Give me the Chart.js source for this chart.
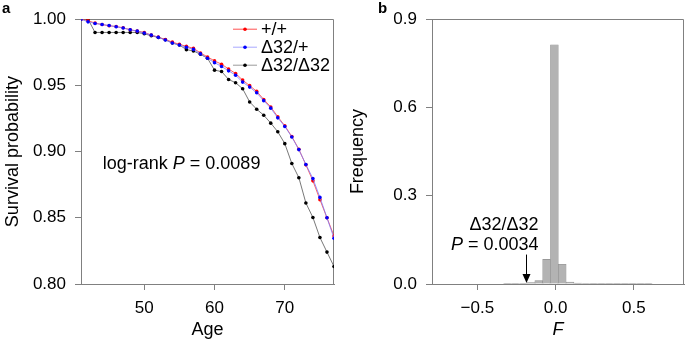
<!DOCTYPE html>
<html lang="en">
<head>
  <meta charset="UTF-8">
  <title>Survival by CCR5 genotype and F distribution</title>
  <script src="https://cdn.jsdelivr.net/npm/chart.js"></script>
  <style>
    body { margin: 0; background: #fff; font-family: "Liberation Sans", Arial, Helvetica, sans-serif; }
    #wrap { position: relative; width: 685px; height: 342px; overflow: hidden; }
    .panel { position: absolute; top: 0; height: 342px; }
    #panelA { left: 0; width: 345px; }
    #panelB { left: 345px; width: 340px; }
    .tag { position: absolute; top: 0; font-weight: bold; font-size: 15px; line-height: 15px; }
  </style>
</head>
<body>
  <div id="wrap">
    <div class="panel" id="panelA"><canvas id="survChart"></canvas></div>
    <div class="panel" id="panelB"><canvas id="histChart"></canvas></div>
    <div class="tag" style="left:2px">a</div>
    <div class="tag" style="left:378px">b</div>
  </div>

  <script>
    // panel a : survival by genotype
    const ages = [41, 42, 43, 44, 45, 46, 47, 48, 49, 50, 51, 52, 53, 54, 55, 56, 57, 58, 59,
                  60, 61, 62, 63, 64, 65, 66, 67, 68, 69, 70, 71, 72, 73, 74, 75, 76, 77];
    const survWT = [1.000, 0.999, 0.997, 0.996, 0.995, 0.9945, 0.9935, 0.992, 0.991, 0.990,
                    0.988, 0.9865, 0.9847, 0.9827, 0.981, 0.9795, 0.978, 0.9745, 0.9715,
                    0.9685, 0.966, 0.9624, 0.959, 0.954, 0.9498, 0.9455, 0.9394, 0.9337,
                    0.9263, 0.9195, 0.9114, 0.9017, 0.890, 0.8779, 0.8637, 0.850, 0.8363];
    const survHet = [1.000, 0.998, 0.9968, 0.996, 0.9952, 0.9943, 0.9933, 0.992, 0.991, 0.9895,
                     0.988, 0.9863, 0.9843, 0.982, 0.9805, 0.9788, 0.9772, 0.9738, 0.9705,
                     0.9672, 0.9643, 0.961, 0.9577, 0.9525, 0.9487, 0.9444, 0.9385, 0.9328,
                     0.9255, 0.919, 0.911, 0.9015, 0.8903, 0.8796, 0.8654, 0.850, 0.8346];
    const survHom = [1.000, 1.000, 0.990, 0.990, 0.990, 0.990, 0.990, 0.990, 0.990, 0.989,
                     0.9875, 0.9862, 0.9845, 0.982, 0.9805, 0.977, 0.976, 0.9735, 0.9705,
                     0.9615, 0.9605, 0.9545, 0.952, 0.9475, 0.9375, 0.932, 0.9275, 0.9215,
                     0.915, 0.906, 0.891, 0.8803, 0.8612, 0.8502, 0.8351, 0.8241, 0.8132];
    const genotypeNames = ['+/+', 'Δ32/+', 'Δ32/Δ32'];
    const ageTicks = [50, 60, 70];
    const survTicks = [0.80, 0.85, 0.90, 0.95, 1.00];
    const logRankP = '0.0089';

    // panel b : distribution of F
    const fBinCenters = [-0.408, -0.358, -0.308, -0.258, -0.208, -0.158, -0.108, -0.058, -0.008,
                         0.042, 0.092, 0.142, 0.192, 0.242, 0.292, 0.342, 0.392, 0.442, 0.492,
                         0.542, 0.592, 0.642];
    const fFreq = [0, 0, 0.0005, 0.001, 0.002, 0.005, 0.012, 0.0836, 0.813,
                   0.067, 0.0067, 0.003, 0.0015, 0.001, 0.0008, 0.0005, 0.0005, 0.0005, 0.0005,
                   0.0008, 0.0008, 0];
    const fTicks = [-0.5, 0, 0.5];
    const freqTicks = [0, 0.3, 0.6, 0.9];
    const homF = -0.19;        // observed F for Δ32/Δ32
    const homP = '0.0034';

    const FONT = '"Liberation Sans", Arial, Helvetica, sans-serif';
    const AXIS = '#808080';
    Chart.defaults.font.family = FONT;
    Chart.defaults.color = '#000';

    const colours = [
      { line: '#ff3b3b', point: '#ff0000', legend: '#ff5050' },
      { line: '#7a7aff', point: '#0000ff', legend: '#a8a8ff' },
      { line: '#555555', point: '#000000', legend: '#9a9a9a' }
    ];

    function series(values, c, order) {
      return {
        data: ages.map((a, i) => ({ x: a, y: values[i] })),
        borderColor: c.line,
        borderWidth: 0.8,
        pointRadius: 1.8,
        pointBorderWidth: 0,
        pointBackgroundColor: c.point,
        tension: 0,
        order: order
      };
    }

    // full box round the plot area
    const frame = {
      id: 'frame',
      beforeDatasetsDraw(chart) {
        const { ctx, chartArea: a } = chart;
        ctx.save();
        ctx.strokeStyle = AXIS;
        ctx.lineWidth = 1;
        ctx.beginPath();
        ctx.moveTo(Math.round(a.left) + 0.5, Math.round(a.top) + 0.5);
        ctx.lineTo(Math.round(a.right) - 0.5, Math.round(a.top) + 0.5);
        ctx.lineTo(Math.round(a.right) - 0.5, Math.round(a.bottom) + 0.5);
        ctx.stroke();
        ctx.restore();
      }
    };

    // draws "P" in italics inside a run of text, returns the width
    function mixedText(ctx, parts, x, y, size, measureOnly) {
      let w = 0;
      parts.forEach(p => {
        ctx.font = (p.italic ? 'italic ' : '') + size + 'px ' + FONT;
        if (!measureOnly) ctx.fillText(p.t, x + w, y);
        w += ctx.measureText(p.t).width;
      });
      return w;
    }

    const survNotes = {
      id: 'survNotes',
      afterDraw(chart) {
        const { ctx, chartArea: a, scales } = chart;
        ctx.save();
        ctx.fillStyle = '#000';
        ctx.textBaseline = 'alphabetic';
        // log-rank text
        const lx = scales.x.getPixelForValue(44.1);
        const ly = scales.y.getPixelForValue(0.8866);
        mixedText(ctx, [{ t: 'log-rank ' }, { t: 'P', italic: true }, { t: ' = ' + logRankP }], lx, ly, 18);
        // legend
        genotypeNames.forEach((name, i) => {
          const y = a.top + 10 + i * 18;
          ctx.strokeStyle = colours[i].legend;
          ctx.lineWidth = 1;
          ctx.beginPath();
          ctx.moveTo(a.right - 101, y);
          ctx.lineTo(a.right - 77, y);
          ctx.stroke();
          ctx.fillStyle = colours[i].point;
          ctx.beginPath();
          ctx.arc(a.right - 89, y, 1.8, 0, Math.PI * 2);
          ctx.fill();
          ctx.fillStyle = '#000';
          ctx.font = '18px ' + FONT;
          ctx.textBaseline = 'middle';
          ctx.fillText(name, a.right - 73, y + 1);
        });
        ctx.restore();
      }
    };

    const histNotes = {
      id: 'histNotes',
      afterDatasetsDraw(chart) {
        const { ctx, scales } = chart;
        const x = Math.round(scales.x.getPixelForValue(homF)) + 0.5;
        const yTop = scales.y.getPixelForValue(0.1);
        const yTip = scales.y.getPixelForValue(0.003);
        ctx.save();
        ctx.strokeStyle = '#000';
        ctx.fillStyle = '#000';
        ctx.lineWidth = 1;
        ctx.beginPath();
        ctx.moveTo(x, yTop);
        ctx.lineTo(x, yTip - 6);
        ctx.stroke();
        ctx.beginPath();
        ctx.moveTo(x - 4, yTip - 9);
        ctx.lineTo(x + 4, yTip - 9);
        ctx.lineTo(x, yTip);
        ctx.closePath();
        ctx.fill();
        const right = x + 12;
        ctx.textBaseline = 'alphabetic';
        ctx.font = '18px ' + FONT;
        ctx.textAlign = 'right';
        ctx.fillText('Δ32/Δ32', right, yTop - 25);
        ctx.textAlign = 'left';
        const parts = [{ t: 'P', italic: true }, { t: ' = ' + homP }];
        const w = mixedText(ctx, parts, 0, 0, 18, true);
        mixedText(ctx, parts, right - w, yTop - 5, 18);
        ctx.restore();
      }
    };

    function fixedTicks(list) {
      return s => { s.ticks = list.map(v => ({ value: v })); };
    }

    new Chart(document.getElementById('survChart'), {
      type: 'line',
      data: {
        datasets: [
          series(survWT, colours[0], 1),
          series(survHet, colours[1], 0),
          series(survHom, colours[2], 2)
        ]
      },
      options: {
        responsive: true,
        maintainAspectRatio: false,
        animation: false,
        layout: { padding: { left: 0, right: 11, top: 15, bottom: 0 } },
        plugins: { legend: { display: false }, tooltip: { enabled: false } },
        scales: {
          x: {
            type: 'linear', min: 41, max: 77,
            afterBuildTicks: fixedTicks(ageTicks),
            afterFit: s => { s.height = 58; },
            grid: { drawOnChartArea: false, tickLength: 6, color: AXIS },
            border: { color: AXIS },
            ticks: { font: { size: 17 }, padding: 8, maxRotation: 0, autoSkip: false },
            title: { display: true, text: 'Age', font: { size: 18 }, padding: { top: 0, bottom: 1 } }
          },
          y: {
            min: 0.8, max: 1.0,
            afterBuildTicks: fixedTicks(survTicks),
            afterFit: s => { s.width = 81; },
            grid: { drawOnChartArea: false, tickLength: 6, color: AXIS },
            border: { color: AXIS },
            ticks: { font: { size: 17 }, padding: 9, callback: v => v.toFixed(2) },
            title: { display: true, text: 'Survival probability', font: { size: 18 }, padding: { top: 2, bottom: 0 } }
          }
        }
      },
      plugins: [frame, survNotes]
    });

    new Chart(document.getElementById('histChart'), {
      type: 'bar',
      data: {
        datasets: [{
          data: fBinCenters.map((c, i) => ({ x: c, y: fFreq[i] })),
          backgroundColor: '#b3b3b3',
          borderColor: '#8f8f8f',
          borderWidth: 0.6,
          barPercentage: 1,
          categoryPercentage: 1
        }]
      },
      options: {
        responsive: true,
        maintainAspectRatio: false,
        animation: false,
        layout: { padding: { left: 0, right: 1, top: 15, bottom: 0 } },
        plugins: { legend: { display: false }, tooltip: { enabled: false } },
        scales: {
          x: {
            type: 'linear', min: -0.79, max: 0.82, offset: false,
            afterBuildTicks: fixedTicks(fTicks),
            afterFit: s => { s.height = 58; },
            grid: { offset: false, drawOnChartArea: false, tickLength: 6, color: AXIS },
            border: { color: AXIS },
            ticks: {
              font: { size: 17 }, padding: 8, maxRotation: 0, autoSkip: false,
              callback: v => (v < 0 ? '\u2212' : '') + Math.abs(v).toFixed(1)
            },
            title: { display: true, text: 'F', font: { size: 18, style: 'italic' }, padding: { top: 0, bottom: 1 } }
          },
          y: {
            min: 0, max: 0.9,
            afterBuildTicks: fixedTicks(freqTicks),
            afterFit: s => { s.width = 87; },
            grid: { drawOnChartArea: false, tickLength: 6, color: AXIS },
            border: { color: AXIS },
            ticks: { font: { size: 17 }, padding: 9, callback: v => v.toFixed(1) },
            title: { display: true, text: 'Frequency', font: { size: 18 }, padding: { top: 2, bottom: 0 } }
          }
        }
      },
      plugins: [frame, histNotes]
    });
  </script>
</body>
</html>
